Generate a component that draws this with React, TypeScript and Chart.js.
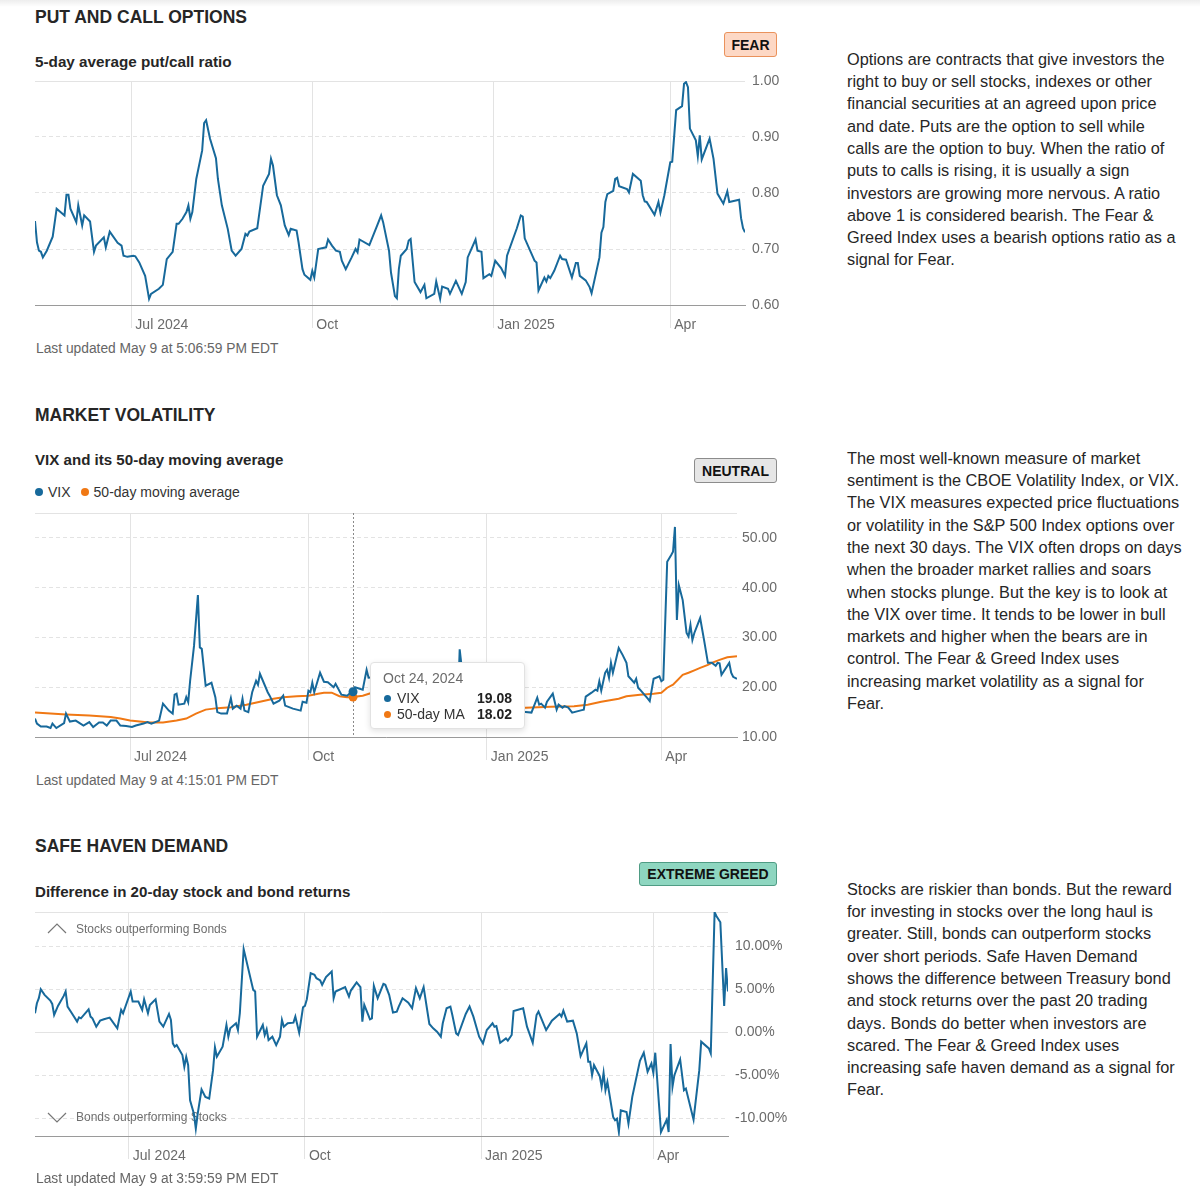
import React, { useEffect, useRef, useState } from 'react';
import { Chart, registerables } from 'chart.js';
Chart.register(...registerables);

const FONT = '"Liberation Sans", Arial, Helvetica, sans-serif';
const BLUE = '#17699b';
const ORANGE = '#f07814';
const GRID = '#e3e3e3';
const AXIS = '#9a9a9a';
const TICK_COLOR = '#6b6b6b';

// x values are days since 2024-05-13
const START_UTC = Date.UTC(2024, 4, 13);
const MONTHS = ['Jan', 'Feb', 'Mar', 'Apr', 'May', 'Jun', 'Jul', 'Aug', 'Sep', 'Oct', 'Nov', 'Dec'];
const xTickDays = [49, 141, 233, 323];
const xTickLabels = ['Jul 2024', 'Oct', 'Jan 2025', 'Apr'];

// ---- Put / call ratio ----
const putCallDays = [0,1,2,3,4,6,9,11,15,16,
 17,18,21,22,24,25,28,30,31,35,
 36,38,42,44,45,47,50,51,53,56,
 58,59,63,65,67,70,72,73,75,77,
 78,79,80,82,85,86,87,89,92,93,
 95,98,100,102,105,107,108,109,113,116,
 119,120,121,123,125,127,129,130,133,134,
 136,137,140,141,142,144,148,149,151,153,
 155,156,158,161,163,164,165,170,174,176,
 177,180,181,183,184,185,186,189,190,191,
 193,196,198,199,203,204,206,207,210,211,
 214,217,219,220,224,225,227,228,231,232,
 234,237,239,240,245,247,248,249,254,255,
 256,259,260,261,262,264,267,268,270,273,
 275,276,277,280,282,283,287,288,289,290,
 291,294,295,296,297,301,302,304,308,309,
 310,311,315,317,318,320,323,324,326,329,
 330,331,332,333,336,337,338,339,343,345,
 347,350,352,353,358,359,360,361];
const putCallValues = [0.750,0.712,0.697,0.695,0.685,0.697,0.722,0.772,0.760,0.797,
 0.797,0.772,0.748,0.778,0.742,0.760,0.749,0.695,0.706,0.721,
 0.703,0.731,0.711,0.706,0.688,0.686,0.688,0.687,0.676,0.652,
 0.611,0.620,0.629,0.636,0.682,0.695,0.745,0.745,0.754,0.766,
 0.778,0.754,0.766,0.825,0.876,0.925,0.930,0.897,0.862,0.825,
 0.778,0.736,0.697,0.688,0.700,0.727,0.724,0.731,0.737,0.813,
 0.834,0.861,0.849,0.796,0.778,0.742,0.725,0.736,0.733,0.712,
 0.664,0.654,0.645,0.661,0.649,0.700,0.703,0.717,0.706,0.697,
 0.695,0.679,0.664,0.685,0.700,0.694,0.717,0.707,0.742,0.760,
 0.748,0.697,0.658,0.616,0.612,0.664,0.688,0.700,0.715,0.718,
 0.641,0.623,0.636,0.612,0.620,0.642,0.611,0.633,0.629,0.620,
 0.643,0.620,0.641,0.685,0.717,0.697,0.695,0.648,0.655,0.652,
 0.679,0.666,0.652,0.688,0.737,0.760,0.758,0.719,0.679,0.676,
 0.626,0.649,0.642,0.652,0.648,0.661,0.688,0.682,0.681,0.649,
 0.675,0.675,0.652,0.644,0.632,0.621,0.685,0.729,0.739,0.784,
 0.798,0.804,0.825,0.827,0.812,0.807,0.801,0.834,0.822,0.796,
 0.785,0.784,0.761,0.784,0.765,0.796,0.855,0.856,0.948,0.955,
 0.995,0.998,0.989,0.915,0.894,0.866,0.903,0.860,0.897,0.861,
 0.799,0.781,0.803,0.784,0.788,0.755,0.737,0.730];
const putCallTicks = [0.6, 0.7, 0.8, 0.9, 1.0];

// ---- VIX and 50-day moving average ----
const vixDays = [0,1,3,6,8,9,11,15,16,18,
 21,25,28,30,33,35,37,39,42,44,
 47,50,52,56,58,60,64,66,69,71,
 72,73,74,77,78,79,80,82,84,85,
 86,88,91,93,94,96,99,101,102,104,
 106,107,108,110,112,114,115,116,120,121,
 123,126,128,129,133,135,137,138,140,141,
 142,143,144,147,149,151,154,155,158,161,
 163,164,165,169,171,172,175,176,177,178,
 179,182,184,186,190,191,193,197,200,203,
 207,210,212,214,217,218,219,220,221,224,
 225,228,231,234,235,239,242,245,247,249,
 250,253,256,257,259,260,261,263,264,267,
 269,270,272,273,275,277,280,282,283,284,
 287,289,290,291,292,294,295,296,297,298,
 301,303,305,306,309,310,311,312,316,317,
 319,322,323,324,326,328,329,330,331,332,
 334,336,337,338,339,340,343,345,347,349,
 351,352,353,354,358,359,360,362];
const vixValues = [13.7,12.7,12.1,12.1,11.8,12.7,11.8,12.8,14.7,13.1,
 13.3,12.3,13.0,12.0,12.9,12.9,12.3,13.3,13.3,12.3,
 12.2,12.0,12.3,12.7,13.0,12.7,13.3,16.7,15.3,14.7,
 18.5,18.7,16.5,16.7,18.0,17.0,21.3,28.3,38.5,28.0,
 27.7,20.3,20.9,18.0,15.0,14.7,14.7,17.8,15.7,16.3,
 15.7,17.7,15.3,15.0,19.0,21.3,20.5,22.7,19.0,18.3,
 16.7,17.3,18.3,16.3,15.7,15.5,15.3,17.1,16.9,19.3,
 19.0,20.9,19.0,22.9,21.1,21.0,20.0,20.7,18.5,18.3,
 19.0,19.08,20.0,19.5,23.5,21.9,22.0,20.5,16.3,15.2,
 14.9,15.0,14.0,16.1,16.4,17.2,15.2,14.1,13.5,13.3,
 12.8,14.2,13.6,13.8,14.7,15.9,27.6,24.1,18.4,16.8,
 14.3,16.0,17.4,17.9,16.1,17.8,19.5,19.2,16.1,16.0,
 15.0,15.0,14.9,15.9,17.9,16.5,16.7,15.9,17.1,18.7,
 15.5,16.5,15.9,16.2,15.9,14.9,15.2,15.4,15.5,18.1,
 18.9,19.5,19.3,21.2,19.3,22.9,23.5,21.9,24.9,22.9,
 27.9,26.5,24.9,22.2,20.9,21.7,19.9,19.5,17.7,17.2,
 21.7,22.2,21.2,21.5,45.2,46.5,47.2,52.2,33.5,40.5,
 37.5,30.9,30.2,32.5,29.5,30.9,33.9,29.5,24.9,24.9,
 24.3,24.9,24.8,22.5,24.9,22.9,22.1,21.7];
const vixMaDays = [0,8,16,28,39,44,49,59,66,73,
 78,83,88,94,101,109,116,123,128,135,
 141,146,149,153,157,161,164,169,173,180,
 190,200,210,220,230,240,253,266,278,285,
 292,295,301,305,312,319,323,326,329,334,
 337,340,343,347,349,353,357,362];
const vixMaValues = [14.9,14.7,14.5,14.3,14.0,13.7,13.3,12.9,12.9,13.3,
 13.7,14.7,15.5,15.8,16.0,16.5,17.1,17.7,18.0,18.2,
 18.3,18.7,18.9,18.9,18.2,18.0,18.02,18.3,18.8,19.0,
 18.7,18.0,17.0,16.3,16.0,15.9,15.9,16.1,16.2,16.5,
 17.1,17.3,17.7,18.2,18.5,18.7,18.9,19.9,20.5,22.5,
 22.9,23.4,23.9,24.5,24.9,25.5,26.0,26.2];
const vixTicks = [10, 20, 30, 40, 50, 55];
const tooltipDay = 164;

// ---- Safe haven demand (stock minus bond 20-day return, %) ----
const safeHavenDays = [0,1,2,3,5,8,9,10,12,15,
 16,17,19,22,23,24,28,29,30,32,
 34,36,39,43,45,46,50,51,54,56,
 57,59,60,63,65,67,70,71,72,73,
 74,77,78,79,80,81,83,84,85,87,
 89,91,93,94,95,98,100,101,102,105,
 106,107,109,114,115,116,119,120,121,122,
 124,126,128,129,130,132,135,136,138,140,
 141,142,144,146,147,149,150,152,155,156,
 157,162,164,165,168,170,171,172,175,176,
 177,179,182,183,185,187,189,190,192,195,
 197,199,201,203,206,208,210,212,213,215,
 217,218,220,221,225,227,229,232,234,236,
 239,240,241,243,246,247,249,250,255,257,
 260,262,263,267,270,274,275,276,278,281,
 283,285,288,289,290,291,292,295,296,297,
 298,299,302,303,304,305,306,309,310,312,
 316,318,320,322,323,324,327,330,331,332,
 333,334,337,339,340,344,347,348,352,353,
 355,356,358,360,361,362];
const safeHavenValues = [2.22,3.39,3.97,5.02,4.36,3.70,3.31,2.02,3.07,4.24,
 4.75,3.00,2.30,1.25,1.75,1.63,2.68,1.83,1.63,0.66,
 1.36,1.52,1.71,0.47,2.61,2.22,4.75,3.58,3.58,2.61,
 3.85,2.22,3.19,3.85,1.25,0.66,2.14,1.44,-1.28,-1.67,
 -1.48,-2.65,-4.01,-2.84,-3.81,-7.90,-9.46,-11.21,-9.46,-6.65,
 -7.51,-7.70,-4.40,-1.75,-2.84,-1.67,0.86,-0.51,0.47,1.05,
 0.27,2.22,9.69,4.94,4.75,-0.51,0.86,-0.31,0.35,-0.89,
 -0.51,-1.48,-0.51,1.44,0.66,1.05,1.13,1.83,-0.04,2.92,
 3.07,3.85,6.89,6.69,6.30,6.03,5.53,6.42,7.08,3.97,
 4.75,5.25,4.16,4.86,5.80,5.25,1.25,3.19,1.52,1.63,
 5.41,3.97,5.64,5.53,4.36,2.30,2.41,3.00,3.97,3.46,
 2.80,5.14,3.97,5.25,0.97,0.47,0.08,-0.51,1.05,2.80,
 3.00,2.02,-0.12,-0.31,2.14,3.00,1.83,-0.51,-1.28,0.27,
 1.05,0.66,0.74,-1.21,-0.70,-0.97,-0.31,2.49,2.80,0.66,
 -1.21,2.02,2.41,0.27,1.36,2.14,1.83,2.53,1.25,1.36,
 -0.12,-2.76,-1.28,-3.42,-3.42,-4.98,-3.81,-5.10,-6.34,-4.71,
 -6.73,-5.76,-9.84,-10.23,-10.04,-11.60,-9.07,-9.26,-10.62,-7.51,
 -3.31,-2.37,-4.59,-3.62,-4.71,-2.37,-11.60,-10.16,-11.60,-1.36,
 -6.34,-4.98,-3.15,-6.73,-6.54,-10.16,-4.40,-1.09,-1.87,-2.45,
 13.97,13.50,12.80,3.07,7.47,4.75];
const safeHavenTicks = [-10, -5, 0, 5, 10, 14];
const safeHavenNotes = ['Stocks outperforming Bonds', 'Bonds outperforming Stocks'];

const para1 = [
  'Options are contracts that give investors the',
  'right to buy or sell stocks, indexes or other',
  'financial securities at an agreed upon price',
  'and date. Puts are the option to sell while',
  'calls are the option to buy. When the ratio of',
  'puts to calls is rising, it is usually a sign',
  'investors are growing more nervous. A ratio',
  'above 1 is considered bearish. The Fear &',
  'Greed Index uses a bearish options ratio as a',
  'signal for Fear.',
];
const para2 = [
  'The most well-known measure of market',
  'sentiment is the CBOE Volatility Index, or VIX.',
  'The VIX measures expected price fluctuations',
  'or volatility in the S&P 500 Index options over',
  'the next 30 days. The VIX often drops on days',
  'when the broader market rallies and soars',
  'when stocks plunge. But the key is to look at',
  'the VIX over time. It tends to be lower in bull',
  'markets and higher when the bears are in',
  'control. The Fear & Greed Index uses',
  'increasing market volatility as a signal for',
  'Fear.',
];
const para3 = [
  'Stocks are riskier than bonds. But the reward',
  'for investing in stocks over the long haul is',
  'greater. Still, bonds can outperform stocks',
  'over short periods. Safe Haven Demand',
  'shows the difference between Treasury bond',
  'and stock returns over the past 20 trading',
  'days. Bonds do better when investors are',
  'scared. The Fear & Greed Index uses',
  'increasing safe haven demand as a signal for',
  'Fear.',
];

function formatDay(d: number) {
  const dt = new Date(START_UTC + d * 86400000);
  return `${MONTHS[dt.getUTCMonth()]} ${dt.getUTCDate()}, ${dt.getUTCFullYear()}`;
}

type Series = { days: number[]; values: number[]; color: string };
type Spec = {
  series: Series[];
  xMax: number;
  yMin: number;
  yMax: number;
  yTicks: number[];
  yHidden: number[];
  ySolid: number[];
  yFormat: (v: number) => string;
  yWidth: number;
  yPad: number;
  plugins?: any[];
  active?: { datasetIndex: number; index: number }[];
};

const crosshairPlugin = {
  id: 'crosshair',
  beforeDatasetsDraw(chart: any) {
    const act = chart.getActiveElements();
    if (!act.length) return;
    const x = Math.round(act[0].element.x) + 0.5;
    const { ctx, chartArea } = chart;
    ctx.save();
    ctx.strokeStyle = '#8a8a8a';
    ctx.lineWidth = 1;
    ctx.setLineDash([2, 2]);
    ctx.beginPath();
    ctx.moveTo(x, chartArea.top);
    ctx.lineTo(x, chartArea.bottom);
    ctx.stroke();
    ctx.restore();
  },
};

const notesPlugin = {
  id: 'notes',
  beforeDatasetsDraw(chart: any) {
    const { ctx, chartArea: a } = chart;
    const cx = a.left + 22;
    const yu = a.top + 17;
    const yd = a.bottom - 18;
    ctx.save();
    ctx.strokeStyle = '#777';
    ctx.lineWidth = 1.2;
    ctx.beginPath();
    ctx.moveTo(cx - 9, yu + 4);
    ctx.lineTo(cx, yu - 5);
    ctx.lineTo(cx + 9, yu + 4);
    ctx.stroke();
    ctx.beginPath();
    ctx.moveTo(cx - 9, yd - 5);
    ctx.lineTo(cx, yd + 4);
    ctx.lineTo(cx + 9, yd - 5);
    ctx.stroke();
    ctx.fillStyle = '#6e6e6e';
    ctx.font = `12px ${FONT}`;
    ctx.textBaseline = 'middle';
    ctx.fillText(safeHavenNotes[0], a.left + 41, yu + 1);
    ctx.fillText(safeHavenNotes[1], a.left + 41, yd);
    ctx.restore();
  },
};

function LineChart({ spec, width, height, onReady }: { spec: Spec; width: number; height: number; onReady?: (c: any) => void }) {
  const ref = useRef<HTMLCanvasElement | null>(null);
  useEffect(() => {
    const canvas = ref.current;
    if (!canvas) return;
    const tickFont = { family: FONT, size: 14 };
    const chart: any = new Chart(canvas, {
      type: 'line',
      data: {
        datasets: spec.series.map((s) => ({
          data: s.days.map((d, i) => ({ x: d, y: s.values[i] })),
          borderColor: s.color,
          backgroundColor: s.color,
          borderWidth: 2,
          pointRadius: 0,
          pointHoverRadius: 4.5,
          pointHoverBorderWidth: 0,
          pointHoverBackgroundColor: s.color,
          pointHoverBorderColor: s.color,
          tension: 0,
          fill: false,
        })),
      },
      options: {
        responsive: false,
        animation: false,
        events: [],
        layout: { padding: { top: 10, left: 10, right: 0, bottom: 0 } },
        plugins: { legend: { display: false }, tooltip: { enabled: false } },
        scales: {
          x: {
            type: 'linear',
            min: 0,
            max: spec.xMax,
            afterBuildTicks: (s: any) => {
              s.ticks = xTickDays.map((v) => ({ value: v }));
            },
            afterFit: (s: any) => {
              s.height = 35;
              s.paddingLeft = 0;
              s.paddingRight = 0;
            },
            ticks: {
              autoSkip: false,
              maxRotation: 0,
              align: 'start',
              labelOffset: 4,
              padding: -11,
              color: TICK_COLOR,
              font: tickFont,
              callback: (_v: any, i: number) => xTickLabels[i],
            },
            grid: { color: GRID, lineWidth: 1, drawTicks: true, tickLength: 23 },
            border: { display: true, color: AXIS, width: 1 },
          },
          y: {
            type: 'linear',
            position: 'right',
            min: spec.yMin,
            max: spec.yMax,
            afterBuildTicks: (s: any) => {
              s.ticks = spec.yTicks.map((v) => ({ value: v }));
            },
            afterFit: (s: any) => {
              s.width = spec.yWidth;
              s.paddingTop = 0;
              s.paddingBottom = 0;
            },
            ticks: {
              padding: spec.yPad,
              color: TICK_COLOR,
              font: tickFont,
              callback: (v: any) => (spec.yHidden.includes(v) ? '' : spec.yFormat(v)),
            },
            grid: { color: GRID, lineWidth: 1, drawTicks: false },
            border: {
              display: false,
              dash: (ctx: any) => (ctx.tick && spec.ySolid.includes(ctx.tick.value) ? [] : [4, 3]),
            },
          },
        },
      } as any,
      plugins: spec.plugins || [],
    });
    if (spec.active) {
      chart.setActiveElements(spec.active);
      chart.update();
    }
    if (onReady) onReady(chart);
    return () => chart.destroy();
  }, []);
  return <canvas ref={ref} width={width} height={height} style={{ display: 'block', width, height }} />;
}

function Badge({ left, top, width, height, bg, border, text }: any) {
  return (
    <div
      style={{
        position: 'absolute', left, top, width, height, boxSizing: 'border-box',
        background: bg, border: `1px solid ${border}`, borderRadius: 3,
        display: 'flex', alignItems: 'center', justifyContent: 'center',
        fontWeight: 700, fontSize: 14, color: '#111', letterSpacing: 0,
      }}
    >
      {text}
    </div>
  );
}

function Text({ left, top, size, weight, color, lh, children }: any) {
  return (
    <div style={{ position: 'absolute', left, top, fontSize: size, fontWeight: weight || 400, color: color || '#262626', lineHeight: `${lh}px`, whiteSpace: 'nowrap' }}>
      {children}
    </div>
  );
}

function Para({ top, lines }: { top: number; lines: string[] }) {
  return (
    <div style={{ position: 'absolute', left: 847, top, fontSize: 16.3, lineHeight: '22.3px', color: '#262626', whiteSpace: 'nowrap' }}>
      {lines.map((l, i) => (
        <div key={i}>{l}</div>
      ))}
    </div>
  );
}

const putCallSpec: Spec = {
  series: [{ days: putCallDays, values: putCallValues, color: BLUE }],
  xMax: putCallDays[putCallDays.length - 1],
  yMin: 0.6, yMax: 1.0, yTicks: putCallTicks, yHidden: [], ySolid: [1.0, 0.6],
  yFormat: (v) => v.toFixed(2), yWidth: 42, yPad: 7,
};

const vixActive = [
  { datasetIndex: 0, index: vixDays.indexOf(tooltipDay) },
  { datasetIndex: 1, index: vixMaDays.indexOf(tooltipDay) },
];
const vixSpec: Spec = {
  series: [
    { days: vixDays, values: vixValues, color: BLUE },
    { days: vixMaDays, values: vixMaValues, color: ORANGE },
  ],
  xMax: vixDays[vixDays.length - 1],
  yMin: 10, yMax: 55, yTicks: vixTicks, yHidden: [55], ySolid: [55, 10],
  yFormat: (v) => v.toFixed(2), yWidth: 48, yPad: 5,
  plugins: [crosshairPlugin],
  active: vixActive,
};

const safeSpec: Spec = {
  series: [{ days: safeHavenDays, values: safeHavenValues, color: BLUE }],
  xMax: safeHavenDays[safeHavenDays.length - 1],
  yMin: -12.06, yMax: 14, yTicks: safeHavenTicks, yHidden: [14], ySolid: [14, 0],
  yFormat: (v) => `${v.toFixed(2)}%`, yWidth: 62, yPad: 7,
  plugins: [notesPlugin],
};

export default function App() {
  const [tip, setTip] = useState<{ left: number; top: number } | null>(null);
  const vixIdx = vixDays.indexOf(tooltipDay);
  const maIdx = vixMaDays.indexOf(tooltipDay);
  const rows = [
    { color: BLUE, label: 'VIX', value: vixValues[vixIdx].toFixed(2) },
    { color: ORANGE, label: '50-day MA', value: vixMaValues[maIdx].toFixed(2) },
  ];
  const dot = (c: string) => ({ display: 'inline-block', width: 8, height: 8, borderRadius: '50%', background: c });
  return (
    <div style={{ position: 'relative', width: 1200, height: 1202, background: '#fff', fontFamily: FONT, color: '#262626', overflow: 'hidden' }}>
      <style>{'body{margin:0;background:#fff}'}</style>
      <div style={{ position: 'absolute', left: 0, top: 0, width: 1200, height: 7, background: 'linear-gradient(rgba(0,0,0,0.07), rgba(0,0,0,0))' }} />

      {/* Put and call options */}
      <Text left={35} top={6.5} size={17.5} weight={700} lh={21}>PUT AND CALL OPTIONS</Text>
      <Badge left={724} top={32} width={53} height={25} bg="#fdd8c5" border="#ea925c" text="FEAR" />
      <Text left={35} top={53} size={15.25} weight={700} lh={18}>5-day average put/call ratio</Text>
      <div style={{ position: 'absolute', left: 25, top: 71 }}>
        <LineChart spec={putCallSpec} width={762} height={269} />
      </div>
      <Text left={36} top={339.5} size={13.8} color="#666" lh={17}>Last updated May 9 at 5:06:59 PM EDT</Text>
      <Para top={47.8} lines={para1} />

      {/* Market volatility */}
      <Text left={35} top={404.5} size={17.5} weight={700} lh={21}>MARKET VOLATILITY</Text>
      <Text left={35} top={451} size={15.1} weight={700} lh={18}>VIX and its 50-day moving average</Text>
      <Badge left={694} top={458} width={83} height={25} bg="#e6e6e6" border="#8c8c8c" text="NEUTRAL" />
      <div style={{ position: 'absolute', left: 35, top: 483.5, fontSize: 14, lineHeight: '17px', color: '#333', display: 'flex', alignItems: 'center', whiteSpace: 'nowrap' }}>
        <span style={dot(BLUE)} />
        <span style={{ marginLeft: 5 }}>VIX</span>
        <span style={{ ...dot(ORANGE), marginLeft: 10 }} />
        <span style={{ marginLeft: 5 }}>50-day moving average</span>
      </div>
      <div style={{ position: 'absolute', left: 25, top: 503 }}>
        <LineChart
          spec={vixSpec}
          width={760}
          height={269}
          onReady={(chart) => {
            const el = chart.getDatasetMeta(0).data[vixIdx];
            setTip({ left: el.x + 17, top: chart.chartArea.bottom - 75 });
          }}
        />
        {tip && (
          <div style={{ position: 'absolute', left: tip.left, top: tip.top, width: 155, height: 67, boxSizing: 'border-box', background: '#fff', border: '1px solid #e2e2e2', borderRadius: 4, boxShadow: '0 2px 6px rgba(0,0,0,0.12)', fontSize: 14 }}>
            <div style={{ position: 'absolute', left: 12, top: 6, lineHeight: '18px', color: '#6b6b6b', whiteSpace: 'nowrap' }}>{formatDay(tooltipDay)}</div>
            {rows.map((r, k) => (
              <div key={k} style={{ position: 'absolute', left: 12, right: 12, top: 27 + k * 16, height: 16, lineHeight: '16px', whiteSpace: 'nowrap' }}>
                <span style={{ position: 'absolute', left: 0.5, top: 4.5, width: 7, height: 7, borderRadius: '50%', background: r.color }} />
                <span style={{ position: 'absolute', left: 14, top: 0, color: '#333' }}>{r.label}</span>
                <span style={{ position: 'absolute', right: 0, top: 0, fontWeight: 700, color: '#222' }}>{r.value}</span>
              </div>
            ))}
          </div>
        )}
      </div>
      <Text left={36} top={771.5} size={13.8} color="#666" lh={17}>Last updated May 9 at 4:15:01 PM EDT</Text>
      <Para top={446.8} lines={para2} />

      {/* Safe haven demand */}
      <Text left={35} top={835.5} size={17.5} weight={700} lh={21}>SAFE HAVEN DEMAND</Text>
      <Badge left={639} top={862} width={138} height={24} bg="#8ed6c0" border="#4f9c84" text="EXTREME GREED" />
      <Text left={35} top={883} size={15.1} weight={700} lh={18}>Difference in 20-day stock and bond returns</Text>
      <div style={{ position: 'absolute', left: 25, top: 902 }}>
        <LineChart spec={safeSpec} width={765} height={269} />
      </div>
      <Text left={36} top={1169.5} size={13.8} color="#666" lh={17}>Last updated May 9 at 3:59:59 PM EDT</Text>
      <Para top={877.8} lines={para3} />
    </div>
  );
}
